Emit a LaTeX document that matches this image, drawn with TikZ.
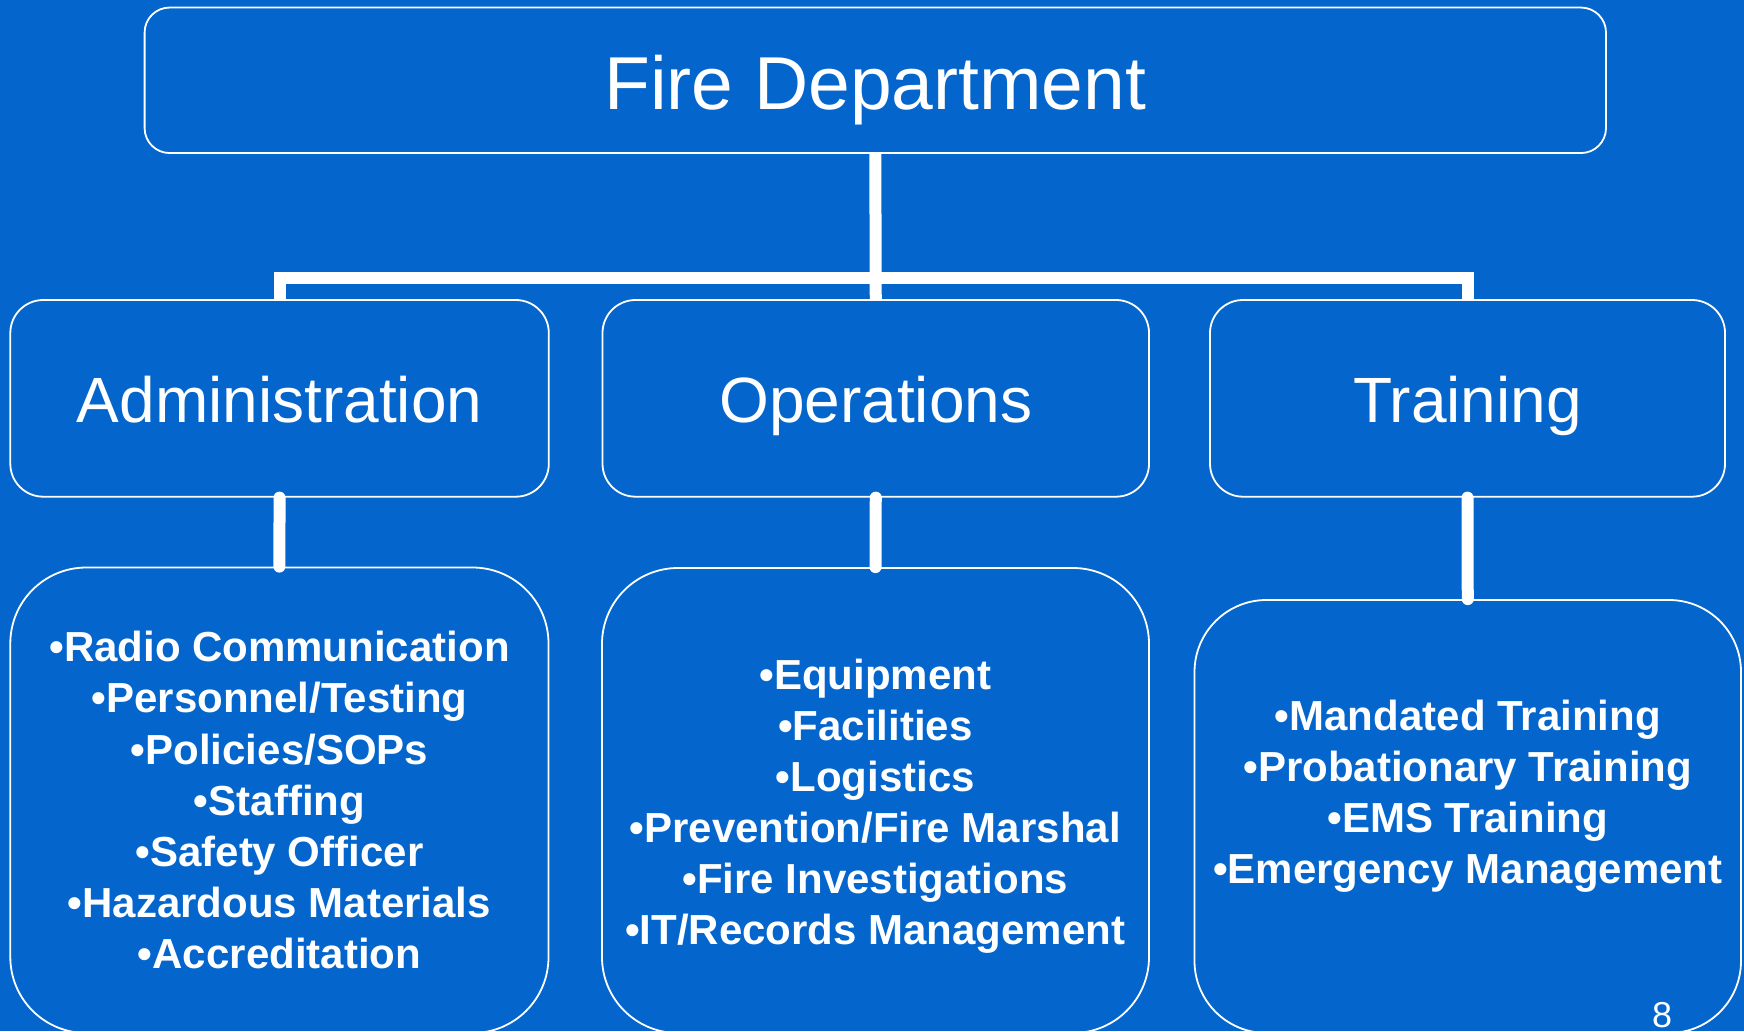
\documentclass[tikz,border=0pt]{standalone}
\usepackage{fontspec}
\setmainfont{Liberation Sans}
\definecolor{bgblue}{HTML}{0466CC}
\begin{document}
\begin{tikzpicture}[x=1pt,y=-1pt,
  box/.style={draw=white,line width=1.8pt,rectangle,inner sep=0pt,text=white},
  conn/.style={draw=white,line width=12pt},
  lowconn/.style={draw=white,line width=12pt,line cap=round},
  item/.style={anchor=base,text=white,inner sep=0pt,font=\fontsize{42}{51}\selectfont\bfseries}]
\useasboundingbox (0,0) rectangle (1744,1031);
\fill[bgblue] (0,0) rectangle (1744,1031);
% top
\node[box,rounded corners=25pt,minimum width=1461.4pt,minimum height=145.5pt,
  text height=59pt,text depth=0pt,font=\fontsize{75}{80}\selectfont] (fd) at (875.3,80.3) {Fire Department};
% level 2
\node[box,rounded corners=33pt,minimum width=538.5pt,minimum height=196.7pt,
  text height=48.7pt,text depth=0pt,font=\fontsize{64}{70}\selectfont] (adm) at (279.55,398.35) {Administration};
\node[box,rounded corners=33pt,minimum width=546.5pt,minimum height=196.7pt,
  text height=48.7pt,text depth=0pt,font=\fontsize{64}{70}\selectfont] (ops) at (875.75,398.35) {Operations};
\node[box,rounded corners=33pt,minimum width=515pt,minimum height=196.7pt,
  text height=48.7pt,text depth=0pt,font=\fontsize{64}{70}\selectfont] (trn) at (1467.5,398.35) {Training};
% level 3
\node[box,rounded corners=76pt,minimum width=538.2pt,minimum height=465.5pt] (admL) at (279.4,800.25) {};
\node[box,rounded corners=76pt,minimum width=547pt,minimum height=465pt] (opsL) at (875.5,800.5) {};
\node[box,rounded corners=72pt,minimum width=546.5pt,minimum height=433pt] (trnL) at (1467.75,816.5) {};
% connectors
\draw[conn] (fd.south) -- (ops.north);
\draw[conn] (adm.north) -- ++(0,-21) -| (trn.north);
\draw[lowconn] (adm.south) -- (admL.north);
\draw[lowconn] (ops.south) -- (opsL.north);
\draw[lowconn] (trn.south) -- (trnL.north);
% lists
\foreach \t [count=\i] in {•Radio Communication,•Personnel/Testing,•Policies/SOPs,•Staffing,•Safety Officer,•Hazardous Materials,•Accreditation}
  {\node[item] (al\i) at (279.5,{661.7+51.2*(\i-1)}) {\t};}
\foreach \t [count=\i] in {•Equipment,•Facilities,•Logistics,•Prevention/Fire Marshal,•Fire Investigations,•IT/Records Management}
  {\node[item] (ol\i) at (875.3,{689+51*(\i-1)}) {\t};}
\foreach \t [count=\i] in {•Mandated Training,•Probationary Training,•EMS Training,•Emergency Management}
  {\node[item] (tl\i) at (1467.8,{730.7+50.9*(\i-1)}) {\t};}
% page number
\node[anchor=base,text=white,inner sep=0pt,font=\fontsize{36}{40}\selectfont] (pg) at (1662,1027) {8};
\end{tikzpicture}
\end{document}
